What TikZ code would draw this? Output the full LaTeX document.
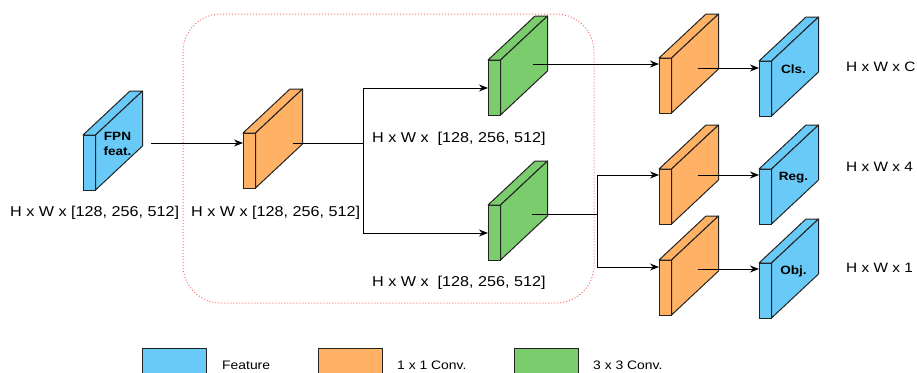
\documentclass[tikz,border=0pt]{standalone}
\usepackage{fontspec}
\setmainfont{Liberation Sans}[FakeStretch=1.13]
\usetikzlibrary{arrows.meta}
\definecolor{featblue}{RGB}{105,202,248}
\definecolor{convorange}{RGB}{255,178,102}
\definecolor{convgreen}{RGB}{122,204,108}
\definecolor{edgegray}{RGB}{35,35,35}
\definecolor{frame}{RGB}{255,110,110}
\newcommand{\drawblock}[5]{%
  \node[blockface, fill=#4, anchor=north west] (#1) at (#2,#3) {};
  \draw[blockline, fill=#4] (#1.north west) -- ++(47,-44) -- ++(12.5,0) -- (#1.north east) -- cycle;
  \draw[blockline, fill=#4] (#1.north east) -- ++(47,-44) -- ++(0,55) -- (#1.south east) -- cycle;
  \node[blocklabel] (#1lab) at ([shift={(22,-19)}]#1.east) {#5};
}
\tikzset{
  blockface/.style={draw=edgegray, line width=1pt, minimum width=12.5pt, minimum height=55pt, inner sep=0pt, outer sep=0pt},
  blockline/.style={draw=edgegray, line width=1pt, line join=round},
  blocklabel/.style={font=\fontsize{12}{15}\selectfont\bfseries, align=center, inner sep=0pt},
  dimlabel/.style={font=\fontsize{14.3}{16}\selectfont, anchor=west, inner sep=0pt},
  outlabel/.style={font=\fontsize{13.6}{16}\selectfont, anchor=west, inner sep=0pt},
  leglabel/.style={font=\fontsize{12.3}{14}\selectfont, anchor=west, inner sep=0pt},
  conn/.style={draw=black, line width=1pt},
  arr/.style={conn, -{Stealth[length=9pt,width=7pt]}},
  legbox/.style={draw=edgegray, line width=1pt}
}
\begin{document}
\begin{tikzpicture}[x=1pt, y=-1pt]
\useasboundingbox (0,0) rectangle (917,372);
\clip (0,0) rectangle (917,372);
% frame
\draw[frame, dotted, line width=1pt, rounded corners=38pt] (183,14) rectangle (594,303);
% blocks
\drawblock{fpn}{83}{135}{featblue}{FPN\\feat.}
\drawblock{oa}{243}{133}{convorange}{}
\drawblock{ga}{488}{60}{convgreen}{}
\drawblock{gb}{488}{205}{convgreen}{}
\drawblock{ob}{659}{58}{convorange}{}
\drawblock{oc}{659}{169}{convorange}{}
\drawblock{od}{659}{260}{convorange}{}
\drawblock{ba}{759}{61}{featblue}{Cls.}
\drawblock{bb}{759}{169}{featblue}{Reg.}
\drawblock{bc}{759}{263}{featblue}{Obj.}
% connectors
\coordinate (fpnout) at (151,143);
\draw[arr] (fpnout) -- (oa.west |- fpnout);
\coordinate (oaout) at (293,143);
\coordinate (forka) at (363,143);
\draw[conn] (oaout) -- (forka);
\draw[arr] (forka) |- ([yshift=-28pt]ga.north west);
\draw[arr] (forka) |- ([yshift=-28pt]gb.north west);
\coordinate (gaout) at (533,64);
\draw[arr] (gaout) -- (ob.west |- gaout);
\coordinate (gbout) at (532,214);
\coordinate (forkb) at (597,214);
\draw[conn] (gbout) -- (forkb);
\draw[arr] (forkb) |- ([yshift=-6pt]oc.north west);
\draw[arr] (forkb) |- ([yshift=-7pt]od.north west);
\coordinate (obout) at (698,68);
\draw[arr] (obout) -- (ba.west |- obout);
\coordinate (ocout) at (698,175);
\draw[arr] (ocout) -- (bb.west |- ocout);
\coordinate (odout) at (698,269);
\draw[arr] (odout) -- (bc.west |- odout);
% dimension labels
\node[dimlabel] (t1) at (10,213) {H x W x [128, 256, 512]};
\node[dimlabel] (t2) at (191,213) {H x W x [128, 256, 512]};
\node[dimlabel] (t3) at (372,139) {H x W x \ [128, 256, 512]};
\node[dimlabel] (t4) at (372,283) {H x W x \ [128, 256, 512]};
\node[outlabel] (t5) at (846,67) {H x W x C};
\node[outlabel] (t6) at (846,167) {H x W x 4};
\node[outlabel] (t7) at (846,268) {H x W x 1};
% legend
\draw[legbox, fill=featblue] (142,348) rectangle (206,380);
\node[leglabel] (l1) at (222,365) {Feature};
\draw[legbox, fill=convorange] (318,348) rectangle (382,380);
\node[leglabel] (l2) at (397,365) {1 x 1 Conv.};
\draw[legbox, fill=convgreen] (514,348) rectangle (578,380);
\node[leglabel] (l3) at (593,365) {3 x 3 Conv.};
\end{tikzpicture}
\end{document}
